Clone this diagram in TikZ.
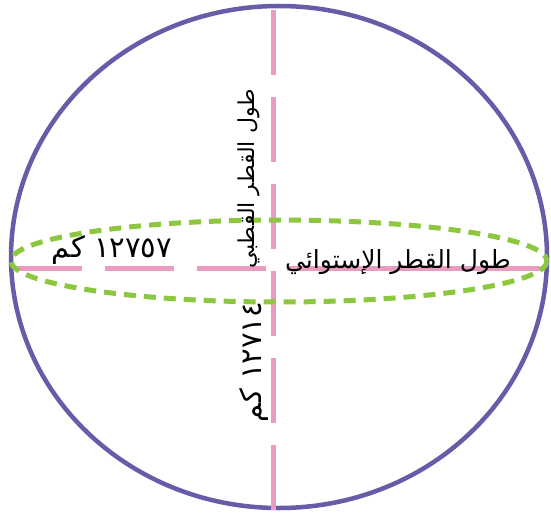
\documentclass[tikz,border=0pt]{standalone}
\usepackage{fontspec}
\newfontfamily\arabicfont[Script=Arabic]{DejaVu Sans}
\TeXXeTstate=1
\definecolor{ringc}{RGB}{104,92,168}
\definecolor{pinkc}{RGB}{233,155,192}
\definecolor{greenc}{RGB}{141,198,63}
\tikzset{
  lab/.style={font=\arabicfont\fontsize{22}{26}\selectfont, inner sep=0pt, text=black},
  biglab/.style={lab, font=\arabicfont\fontsize{25}{30}\selectfont},
  numlab/.style={lab, font=\arabicfont\fontsize{29}{34}\selectfont},
  ringline/.style={draw=ringc, line width=4.5pt},
  pinkline/.style={draw=pinkc, line width=5pt},
  greenline/.style={draw=greenc, line width=5pt, dash pattern=on 12pt off 8pt}
}
\begin{document}
\begin{tikzpicture}[x=1pt,y=-1pt]
\useasboundingbox (0,0) rectangle (551,516);
\fill[white] (0,0) rectangle (551,516);
% outer ring
\draw[ringline] (279,257) ellipse [x radius=268, y radius=251];
% pink axes
\coordinate (vtop) at (273,10);
\coordinate (vbot) at (273,510);
\coordinate (hleft) at (13,268);
\coordinate (hmid) at (267,268);
\coordinate (hrs) at (287,268);
\coordinate (hright) at (540,268);
\draw[pinkline, dash pattern=on 65pt off 22pt] (vtop) -- (vbot);
\draw[pinkline, dash pattern=on 69pt off 23pt] (hleft) -- (hmid);
\draw[pinkline] (hrs) -- (hright);
% green equatorial ellipse
\draw[greenline] (279,261) ellipse [x radius=268, y radius=41];
% labels
\node[lab, rotate=90] (polar) at (249,179) {\beginR طول القطر القطبي\endR};
\node[numlab, rotate=90] (polarv) at (254,362) {\beginR\beginL ١٢٧١٤\endL{} كم\endR};
\node[biglab] (eq) at (398,262) {\beginR طول القطر الإستوائي\endR};
\node[numlab] (eqv) at (112,250) {\beginR\beginL ١٢٧٥٧\endL{} كم\endR};
\end{tikzpicture}
\end{document}
